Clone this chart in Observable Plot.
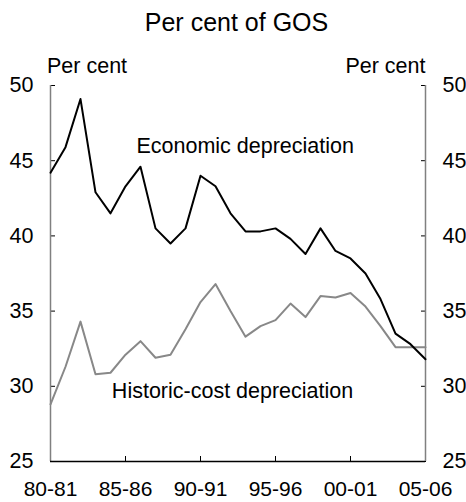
<!DOCTYPE html>
<html>
<head>
<meta charset="utf-8">
<script src="https://cdn.jsdelivr.net/npm/d3@7"></script>
<script src="https://cdn.jsdelivr.net/npm/@observablehq/plot@0.6"></script>
<style>
  body { margin: 0; background: #fff; font-family: "Liberation Sans", Arial, sans-serif; }
  #title { width: 466px; height: 34px; box-sizing: border-box; padding-top: 11px; padding-left: 7px;
           text-align: center; font-size: 25px; line-height: 22px; color: #000; white-space: nowrap; }
</style>
</head>
<body>
<div id="title">Per cent of GOS</div>
<div id="chart"></div>
<script>
// Financial years (categories)
const years = ["80-81","81-82","82-83","83-84","84-85","85-86","86-87","87-88","88-89","89-90",
               "90-91","91-92","92-93","93-94","94-95","95-96","96-97","97-98","98-99","99-00",
               "00-01","01-02","02-03","03-04","04-05","05-06"];
// Series values (per cent of GOS)
const economic = [44.2, 45.9, 49.1, 42.9, 41.5, 43.3, 44.6, 40.5, 39.5, 40.5,
                  44.0, 43.3, 41.5, 40.3, 40.3, 40.5, 39.8, 38.8, 40.5, 39.0,
                  38.5, 37.5, 35.8, 33.5, 32.8, 31.8];
const historic = [28.8, 31.3, 34.3, 30.8, 30.9, 32.1, 33.0, 31.9, 32.1, 33.8,
                  35.6, 36.8, 35.0, 33.3, 34.0, 34.4, 35.5, 34.6, 36.0, 35.9,
                  36.2, 35.3, 34.0, 32.6, 32.6, 32.6];
const seriesNames = ["Economic depreciation", "Historic-cost depreciation"];
// Tick labels
const xTicks = ["80-81","85-86","90-91","95-96","00-01","05-06"];
const yTicks = [25, 30, 35, 40, 45, 50];
const unitLabel = "Per cent";

const rows = years.map((y, i) => ({i, year: y, economic: economic[i], historic: historic[i]}));
const xTickIdx = xTicks.map(t => years.indexOf(t));

const chart = Plot.plot({
  width: 466,
  height: 468,
  marginTop: 51,
  marginBottom: 41,
  marginLeft: 50,
  marginRight: 41,
  style: {fontFamily: "'Liberation Sans', Arial, sans-serif", fontSize: "21.5px", background: "#fff", color: "#000"},
  x: {domain: [0, years.length - 1]},
  y: {domain: [25, 50]},
  marks: [
    Plot.axisY(yTicks, {anchor: "left", tickSize: -5, tickPadding: 22, label: null}),
    Plot.axisY(yTicks, {anchor: "right", tickSize: -5, tickPadding: 22, label: null}),
    Plot.axisX(xTickIdx, {anchor: "bottom", tickSize: -5, tickPadding: 25, fontSize: 21, tickFormat: i => years[i], label: null}),
    Plot.ruleX([0, years.length - 1], {stroke: "#808080", strokeWidth: 1.5}),
    Plot.ruleY([25], {stroke: "#000", strokeWidth: 1.5}),
    Plot.line(rows, {x: "i", y: "historic", stroke: "#888888", strokeWidth: 2}),
    Plot.line(rows, {x: "i", y: "economic", stroke: "#000000", strokeWidth: 2}),
    Plot.text([seriesNames[0]], {x: 5.73, y: 45.48, textAnchor: "start", lineAnchor: "bottom", fill: "#000"}),
    Plot.text([seriesNames[1]], {x: 4.09, y: 29.19, textAnchor: "start", lineAnchor: "bottom", fill: "#000"}),
    Plot.text([unitLabel], {frameAnchor: "top-left", textAnchor: "start", lineAnchor: "bottom", dx: -3.5, dy: -13, fill: "#000"}),
    Plot.text([unitLabel], {frameAnchor: "top-right", textAnchor: "end", lineAnchor: "bottom", dy: -13, fill: "#000"})
  ]
});
document.getElementById("chart").appendChild(chart);
</script>
</body>
</html>
